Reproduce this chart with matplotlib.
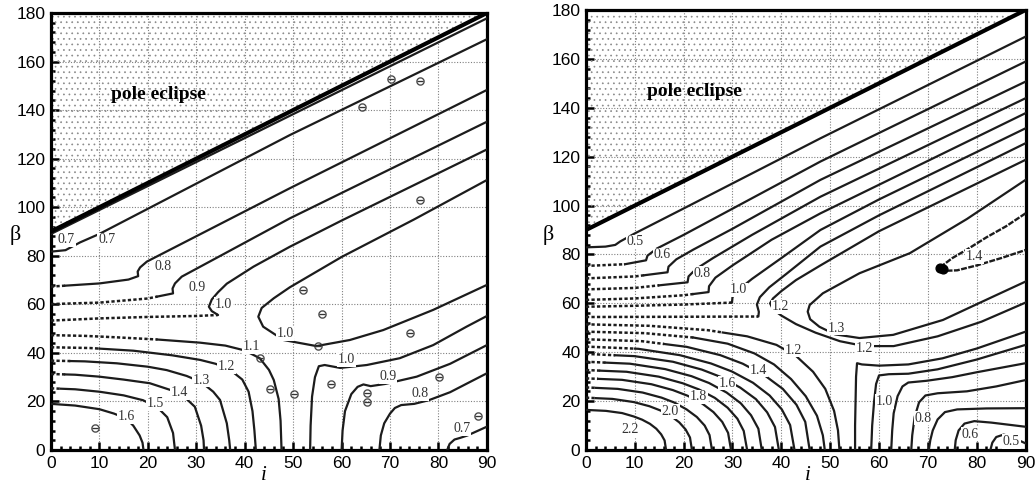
import numpy as np
import matplotlib.pyplot as plt
from matplotlib.ticker import MultipleLocator

plt.rcParams['hatch.linewidth'] = 0.5

# ---------------- shared: pole eclipse boundary beta = 90 + i ----------------
boundary_i = [0, 90]
boundary_beta = [90, 180]

# ---------------- left panel contours, (i, beta) ----------------
L_edge = [(0, 89.0), (90, 177.8)]
L_07 = [(0, 81.7), (3, 82.3), (4.3, 83.7), (6, 85.5), (10, 89.0), (49.3, 129.7), (90, 169.2)]
L_08 = [(0, 67.3), (10, 68.6), (16, 70.2), (18, 71.6), (17.9, 73.5), (18.4, 75.2),
        (19.8, 77.6), (49.3, 107.8), (90, 148.3)]
L_09 = [(0, 60.1), (10, 60.7), (20, 62.4), (25.2, 64.5), (25.1, 66.5), (25.6, 68.6),
        (27, 71.4), (35, 80.0), (49.3, 95.4), (90, 135.2)]
L_10a = [(0, 53.3), (10, 54.2), (20, 54.8), (30, 55.2), (34.5, 55.6), (33.2, 57.2),
         (32.6, 59.0), (33.2, 62.0), (34.5, 65.0), (36.3, 68.5), (41.8, 75.5),
         (49.3, 83.7), (60, 94.5), (90, 123.8)]
L_10b = [(90, 68.0), (78.9, 57.7), (68.6, 49.4), (61.7, 45.3), (54.8, 42.8), (48, 45.3),
         (43.8, 50.8), (42.8, 54.9), (43.5, 58.5), (46, 62.5), (49.3, 67.0),
         (60, 79.5), (75, 95.0), (90, 111.2)]
L_10c = [(53.5, 0), (53.6, 10), (53.9, 22), (54.5, 30), (55.3, 34.5), (56.5, 35.0),
         (59.7, 33.8), (65.2, 35.0), (72, 37.8), (78.9, 43.2), (85.8, 50.8), (90, 55.2)]
L_09b = [(60, 0), (60.2, 8), (60.7, 16), (62, 23), (63.3, 26), (64.5, 27.0), (66, 26.3),
         (69, 27.2), (75.5, 30.2), (82.4, 35.5), (90, 43.2)]
L_08b = [(67.8, 0), (68.1, 6), (68.8, 11), (70, 15), (71, 17.3), (72.3, 18.5), (75, 19.0),
         (78, 20.5), (82.4, 23.8), (86, 27.5), (90, 31.6)]
L_07b = [(81.8, 0), (82.3, 2.5), (83.3, 4.3), (84.5, 5.0), (86, 6.0), (88, 7.8), (90, 9.6)]
L_11 = [(0, 47.3), (7, 47.0), (13.6, 46.4), (22, 45.5), (30.8, 44.2), (36, 43.0), (40, 41.0),
        (43.1, 37.8), (45, 33.0), (46, 28.8), (47, 21.0), (47.4, 12.0), (47.6, 0)]
L_12 = [(0, 42.3), (8, 42.0), (17, 40.9), (25, 39.0), (30.8, 37.1), (34, 35.5), (37, 33.0),
        (39.5, 29.0), (40.8, 24.0), (41.6, 16.0), (42, 8.0), (42.3, 0)]
L_13 = [(0, 36.8), (7, 36.5), (13.6, 35.7), (20, 34.3), (23.9, 32.9), (28, 30.5), (31, 28.0),
        (33.5, 24.0), (34.9, 20.6), (36.3, 11.0), (36.8, 4.0), (37, 0)]
L_14 = [(0, 31.3), (5, 31.0), (10, 30.2), (15, 29.0), (20.4, 27.5), (25, 24.5), (28, 21.0),
        (29.7, 17.8), (31, 10.0), (31.5, 4.0), (31.6, 0)]
L_15 = [(0, 25.4), (5, 25.0), (10, 24.0), (15, 22.5), (19, 20.5), (22, 17.5), (24, 13.5),
        (25.2, 7.0), (25.6, 0)]
L_16 = [(0, 19.0), (5, 18.3), (10, 16.8), (13, 15.0), (15.5, 13.0), (17, 10.0), (18.3, 6.0),
        (18.9, 3.0), (19.1, 0)]

# contour, dotted start up to i
left_curves = [(L_edge, None), (L_07, None), (L_08, 3), (L_09, 22), (L_10a, 34.4),
               (L_10b, None), (L_10c, None), (L_09b, None), (L_08b, None), (L_07b, None),
               (L_11, 22), (L_12, 10), (L_13, 4), (L_14, 3), (L_15, 2), (L_16, None)]

left_labels = ['0.7', '0.7', '0.8', '0.9', '1.0', '1.1', '1.2', '1.3', '1.4', '1.5', '1.6',
               '1.0', '1.0', '0.9', '0.8', '0.7']
left_label_i = [3.2, 11.5, 23.2, 30.1, 35.6, 41.4, 36.3, 31.1, 26.6, 21.5, 15.6,
                48.3, 61.0, 69.6, 76.2, 84.8]
left_label_b = [86.5, 86.5, 75.5, 67.0, 60.1, 42.5, 34.3, 28.8, 23.6, 19.2, 13.7,
                48.0, 37.1, 30.2, 23.3, 8.9]

# little "e" marks
mark_i = [70.3, 76.2, 64.3, 76.2, 52.1, 56.0, 55.2, 74.1, 43.1, 45.2, 50.2, 57.9,
          65.2, 65.2, 80.2, 88.2, 9.1]
mark_b = [153, 152, 141.1, 103, 65.9, 55.9, 42.8, 48.0, 38.0, 25.0, 23.1, 27.0,
          23.3, 19.9, 30.2, 14.1, 8.9]

# ---------------- right panel contours ----------------
R_05 = [(0, 82.9), (4, 83.2), (6, 83.9), (7, 85.3), (10, 88.6), (20, 98.8), (48, 127.5), (90, 169.1)]
R_06 = [(0, 75.3), (8, 76.0), (12.3, 77.6), (12.6, 79.5), (14.5, 82.4), (20, 88.0), (48, 118.0), (90, 158.9)]
R_07 = [(0, 70.2), (10, 71.0), (16.7, 72.7), (16.9, 75.0), (18.5, 78.0), (22, 82.0), (30, 90.5),
        (48, 110.5), (90, 150.7)]
R_08 = [(0, 65.7), (10, 66.3), (20.8, 68.6), (21, 71.0), (22.5, 74.0), (26, 78.5), (34, 88.0),
        (48, 103.6), (90, 143.9)]
R_09 = [(0, 61.4), (10, 62.0), (20, 63.3), (25.1, 64.6), (25.2, 67.0), (26.5, 70.5), (30, 75.5),
        (38, 86.0), (48, 96.8), (90, 137.8)]
R_10 = [(0, 58.6), (10, 59.0), (20, 59.5), (29.9, 60.3), (30, 62.5), (31.2, 65.5), (34, 70.0),
        (40, 78.5), (48, 90.0), (60, 102.5), (90, 131.6)]
R_11 = [(0, 54.4), (20, 54.5), (35.3, 54.6), (35.4, 56.5), (35, 59.5), (35.6, 62.5), (37.5, 66.5),
        (41, 72.0), (48, 83.2), (60, 96.0), (90, 125.5)]
R_12n = [(90, 118.7), (60, 89.5), (48, 75.5), (43, 69.5), (40, 65.0), (38.3, 62.0), (37.7, 60.0),
         (38.3, 57.5), (40, 55.0), (43, 51.5), (47, 48.0), (52, 44.5), (57, 42.5), (63, 42.5),
         (72, 46.5), (81, 52.5), (90, 60.3)]
R_13 = [(90, 68.9), (83.3, 62.7), (73.1, 53.2), (62.9, 47.1), (56, 45.8), (51, 47.3), (47.8, 50.4),
        (45.9, 53.5), (45.4, 56.6), (45.8, 59.3), (48.5, 64.1), (56, 72.3), (66.3, 80.5),
        (78, 94.5), (90, 110.5)]
R_14 = [(90, 96.8), (86, 91.5), (82, 87.0), (78, 82.0), (75, 78.5), (73, 75.5), (72.4, 74.3),
        (73.5, 73.3), (76, 73.5), (80, 75.5), (85, 78.5), (90, 81.8)]
blob_i = [72.4, 73.2]
blob_b = [74.3, 73.9]

R_22 = [(0, 16.4), (4.1, 16.0), (7.4, 15.1), (9.8, 13.7), (11.5, 12.4), (13.1, 10.7), (14.4, 8.7),
        (15.4, 6.4), (16.1, 3.9), (16.4, 0)]
R_21 = [(0, 21.4), (5.4, 20.9), (9.8, 19.6), (13, 17.9), (15.2, 16.2), (17.4, 13.9), (19.1, 11.3),
        (20.4, 8.4), (21.3, 5.1), (21.7, 0)]
R_20 = [(0, 25.6), (6.5, 25.0), (11.6, 23.5), (15.5, 21.4), (18.1, 19.4), (20.6, 16.6), (22.7, 13.5),
        (24.3, 10.0), (25.3, 6.1), (25.8, 0)]
R_19 = [(0, 29.3), (7.4, 28.7), (13.4, 26.9), (17.8, 24.5), (20.8, 22.2), (23.8, 19.0), (26.1, 15.5),
        (27.9, 11.5), (29.1, 7.0), (29.7, 0)]
R_18 = [(0, 32.7), (8.3, 32.0), (14.9, 30.0), (19.8, 27.3), (23.1, 24.8), (26.4, 21.3), (29, 17.3),
        (31, 12.8), (32.3, 7.8), (33, 0)]
R_17 = [(0, 36.1), (9, 35.3), (16.2, 33.1), (21.6, 30.2), (25.2, 27.4), (28.8, 23.5), (31.7, 19.1),
        (33.8, 14.2), (35.3, 8.7), (36, 0)]
R_16 = [(0, 39.3), (9.9, 38.4), (17.8, 36.1), (23.7, 32.9), (27.7, 29.8), (31.6, 25.5), (34.8, 20.8),
        (37.1, 15.4), (38.7, 9.4), (39.5, 0)]
R_15 = [(0, 42.3), (10.7, 41.4), (19.2, 38.8), (25.6, 35.4), (29.9, 32.1), (34.2, 27.5), (37.6, 22.3),
        (40.1, 16.6), (41.8, 10.2), (42.7, 0)]
R_14b = [(0, 45.3), (11.5, 44.5), (20.6, 42.2), (27.5, 38.8), (32.1, 35.3), (36.6, 30.5), (40.3, 25.0),
         (43.1, 18.5), (44.9, 11.5), (45.8, 0)]
R_13b = [(0, 48.4), (12, 47.8), (22, 46.0), (29, 43.5), (34.5, 39.5), (38.5, 35.0), (42, 29.0),
         (45, 22.0), (47.3, 14.0), (48.5, 6.0), (48.9, 0)]
R_12b = [(0, 51.4), (13, 50.8), (25, 49.0), (33, 46.5), (39, 43.0), (43, 38.5), (46.5, 32.0),
         (49, 25.0), (50.8, 16.0), (51.6, 8.0), (51.9, 0)]

R_11b = [(55.1, 0), (55.1, 10), (55.2, 20), (55.3, 30), (55.5, 35.5), (56.5, 35.0), (60, 34.5),
         (66, 35.0), (73, 37.5), (80, 41.5), (90, 48.4)]
R_10b = [(58.4, 0), (58.6, 10), (59, 20), (59.4, 27), (60, 30.5), (62, 31.0), (66, 31.2),
         (72, 33.0), (80, 37.0), (90, 43.0)]
R_09b = [(62.5, 0), (62.7, 8), (63, 15), (63.8, 22), (64.8, 26), (66, 27.6), (69.7, 28.3),
         (75, 29.8), (80, 31.8), (90, 35.5)]
R_08b = [(66.6, 0), (66.8, 6), (67.3, 13.5), (68.2, 19.5), (69.5, 22.3), (72, 23.2), (78, 24.0),
         (84, 26.0), (90, 28.6)]
R_07b = [(70.2, 0), (70.5, 4), (71, 8), (72, 12.5), (73.5, 15.5), (76, 16.6), (82, 17.0), (90, 17.1)]
R_06b = [(75.5, 0), (75.7, 4), (76.3, 8), (77.5, 10.8), (79.5, 11.8), (83, 11.2), (90, 9.5)]
R_05b = [(82.8, 0), (83.2, 3), (84, 5.3), (85.5, 6.3), (87, 5.5), (90, 2.7)]

right_curves = [(R_05, None), (R_06, 8), (R_07, 12), (R_08, 15), (R_09, 22), (R_10, 29.8),
                (R_11, 35.2), (R_12n, None), (R_13, None),
                (R_22, None), (R_21, 2), (R_20, 2), (R_19, 2.5), (R_18, 3), (R_17, 4),
                (R_16, 6), (R_15, 10), (R_14b, 16), (R_13b, 22), (R_12b, 28),
                (R_11b, None), (R_10b, None), (R_09b, None), (R_08b, None), (R_07b, None),
                (R_06b, None), (R_05b, None)]

right_labels = ['0.5', '0.6', '0.8', '1.0', '1.2', '2.2', '2.0', '1.8', '1.6', '1.4', '1.2',
                '1.3', '1.2', '1.0', '0.8', '0.6', '0.5', '1.4']
right_label_i = [10.1, 15.6, 23.8, 31.2, 39.8, 9.1, 17.3, 23.1, 28.9, 35.3, 42.4,
                 51.3, 57.0, 61.1, 69.0, 78.7, 87.1, 79.6]
right_label_b = [85.2, 79.8, 72.3, 65.5, 58.6, 8.2, 15.7, 21.8, 27.3, 32.7, 40.9,
                 49.8, 41.6, 19.8, 13.0, 6.5, 3.4, 79.1]

LINE = '#1c1c1c'


def draw_curve(ax, pts, dash_to):
    pts = np.asarray(pts, float)
    if dash_to is None:
        ax.plot(pts[:, 0], pts[:, 1], color=LINE, lw=1.6, solid_joinstyle='round', zorder=3)
        return
    k = int(np.argmax(pts[:, 0] > dash_to))
    (x0, y0), (x1, y1) = pts[k - 1], pts[k]
    yb = y0 + (y1 - y0) * (dash_to - x0) / (x1 - x0)
    dashed = np.vstack([pts[:k], [dash_to, yb]])
    solid = np.vstack([[dash_to, yb], pts[k:]])
    ax.plot(dashed[:, 0], dashed[:, 1], color=LINE, lw=1.8, ls=(0, (1.3, 0.9)), zorder=3)
    ax.plot(solid[:, 0], solid[:, 1], color=LINE, lw=1.6, solid_joinstyle='round', zorder=3)


def setup(ax):
    ax.set_xlim(0, 90)
    ax.set_ylim(0, 180)
    ax.xaxis.set_major_locator(MultipleLocator(10))
    ax.xaxis.set_minor_locator(MultipleLocator(2))
    ax.yaxis.set_major_locator(MultipleLocator(20))
    ax.yaxis.set_minor_locator(MultipleLocator(4))
    ax.tick_params(which='both', direction='in', top=False, right=False, width=1.8,
                   labelsize=12.5, pad=4)
    ax.tick_params(which='major', length=6)
    ax.tick_params(which='minor', length=3)
    for lab in ax.get_xticklabels() + ax.get_yticklabels():
        lab.set_family('Liberation Sans')
    for s in ax.spines.values():
        s.set_linewidth(2.3)
    ax.set_axisbelow(True)
    ax.grid(True, which='major', color='#808080', ls=(0, (1, 1.5)), lw=0.8)
    ax.fill_between(boundary_i, boundary_beta, 180, facecolor='none', edgecolor='#8a8a8a',
                    hatch='...', lw=0, zorder=1)
    ax.plot(boundary_i, boundary_beta, color='black', lw=3.0, zorder=4)
    ax.text(22.2, 146.5, 'pole eclipse', family='Liberation Serif', weight='bold',
            fontsize=14, ha='center', va='center', zorder=5)


def put_labels(ax, labels, li, lb):
    for t, x, y in zip(labels, li, lb):
        ax.text(x, y, t, family='Liberation Serif', fontsize=10, color='#333333',
                ha='center', va='center', zorder=6,
                bbox=dict(boxstyle='square,pad=0.05', fc='white', ec='none'))


fig = plt.figure(figsize=(10.36, 4.88), dpi=100)
axL = fig.add_axes([0.0492, 0.0779, 0.4208, 0.8955])
axR = fig.add_axes([0.5656, 0.0779, 0.4243, 0.9016])

for ax in (axL, axR):
    setup(ax)

for pts, d in left_curves:
    draw_curve(axL, pts, d)
put_labels(axL, left_labels, left_label_i, left_label_b)
axL.scatter(mark_i, mark_b, marker='$\\ominus$', s=34, color='#333333', linewidths=0.2, zorder=7)

for pts, d in right_curves:
    draw_curve(axR, pts, d)
# the small 1.4 island is drawn rough in the original
isl = np.asarray(R_14, float)
axR.plot(isl[:, 0], isl[:, 1], color=LINE, lw=1.7, ls=(0, (2.5, 0.6)), zorder=3)
axR.scatter(blob_i, blob_b, marker='o', s=40, color='black', zorder=5)
put_labels(axR, right_labels, right_label_i, right_label_b)

for x in (0.0145, 0.529):
    fig.text(x, 0.519, 'β', family='Liberation Serif', fontsize=16, ha='center', va='center')
for x in (0.2548, 0.780):
    fig.text(x, 0.026, 'i', family='Liberation Serif', style='italic', fontsize=15,
             ha='center', va='center')

fig.savefig('out.png', dpi=100)
